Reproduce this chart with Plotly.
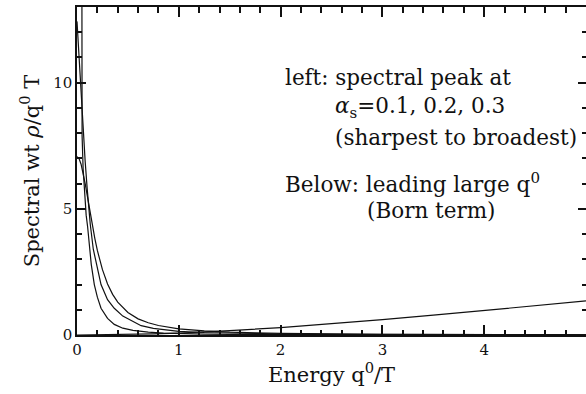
import plotly.graph_objects as go

# ---- data ----
x_sharp = [0.040, 0.044, 0.05, 0.06, 0.07, 0.08, 0.09, 0.104, 0.12, 0.14, 0.17, 0.2,
           0.236, 0.27, 0.3, 0.366, 0.45, 0.55, 0.7, 0.85, 1.0, 1.25, 1.5, 2.0, 3.0, 4.0, 5.0]
y_sharp = [40, 9.4, 7.9, 6.6, 5.8, 5.2, 4.75, 4.3, 3.6, 2.8, 2.0, 1.5,
           1.06, 0.82, 0.66, 0.42, 0.27, 0.18, 0.11, 0.075, 0.055, 0.035, 0.025, 0.014, 0.007, 0.004, 0.003]

x_mid = [0, 0.01, 0.02, 0.03, 0.04, 0.06, 0.08, 0.10, 0.13, 0.16, 0.2, 0.236, 0.3, 0.366,
         0.45, 0.55, 0.63, 0.75, 0.9, 1.0, 1.25, 1.5, 2.0, 2.5, 3.0, 4.0, 5.0]
y_mid = [12.43, 11.7, 11.0, 10.2, 9.6, 8.2, 6.9, 5.8, 4.4, 3.4, 2.6, 2.0, 1.4, 1.06,
         0.75, 0.52, 0.37, 0.26, 0.18, 0.145, 0.1, 0.07, 0.04, 0.025, 0.018, 0.01, 0.006]

x_broad = [0, 0.02, 0.04, 0.06, 0.08, 0.1, 0.125, 0.15, 0.175, 0.2, 0.25, 0.3, 0.35, 0.4,
           0.5, 0.6, 0.7, 0.8, 1.0, 1.25, 1.5, 2.0, 2.5, 3.0, 4.0, 5.0]
y_broad = [7.07, 6.99, 6.77, 6.43, 6.01, 5.54, 4.93, 4.36, 3.83, 3.35, 2.59, 2.02, 1.61, 1.30,
           0.89, 0.64, 0.485, 0.377, 0.246, 0.160, 0.112, 0.063, 0.041, 0.028, 0.016, 0.010]

x_born = [0, 0.25, 0.5, 0.75, 1.0, 1.25, 1.5, 2.0, 2.5, 3.0, 3.5, 4.0, 4.5, 5.0]
y_born = [0, 0.005, 0.02, 0.044, 0.078, 0.121, 0.171, 0.294, 0.441, 0.606, 0.784, 0.969, 1.158, 1.35]

x_tick_step, x_minor_step = 1, 0.2
y_tick_step, y_minor_step = 5, 1
X_RANGE = [0, 5]
Y_RANGE = [0, 13]

FONT = "DejaVu Serif"
INK = "#111111"
LINE = dict(color=INK, width=1.2)

fig = go.Figure()
for name, xs, ys in [("alpha_s=0.1", x_sharp, y_sharp),
                     ("alpha_s=0.2", x_mid, y_mid),
                     ("alpha_s=0.3", x_broad, y_broad),
                     ("Born term", x_born, y_born)]:
    fig.add_trace(go.Scatter(x=xs, y=ys, mode="lines", line=LINE, name=name,
                             showlegend=False, hoverinfo="skip"))

# invisible helper trace so the mirrored (top / right) tick axes get drawn
fig.add_trace(go.Scatter(x=x_born, y=y_born, xaxis="x2", yaxis="y2", mode="lines",
                         line=dict(color="rgba(0,0,0,0)", width=0), showlegend=False,
                         hoverinfo="skip"))

base = dict(showgrid=False, zeroline=False, linecolor=INK, linewidth=1.5,
            ticks="inside", tickcolor=INK, tickwidth=1.5, tickmode="linear", tick0=0)

fig.update_layout(
    xaxis=dict(**base, range=X_RANGE, dtick=x_tick_step, ticklen=10, showline=True,
               mirror=True, tickfont=dict(family=FONT, size=15, color=INK),
               minor=dict(dtick=x_minor_step, tick0=0, ticks="inside", ticklen=5,
                          tickcolor=INK, tickwidth=1.5),
               title=dict(text="Energy q<sup>0</sup>/T",
                          font=dict(family=FONT, size=21, color=INK), standoff=6)),
    yaxis=dict(**base, range=Y_RANGE, dtick=y_tick_step, ticklen=9, showline=True,
               mirror=True, tickfont=dict(family=FONT, size=15, color=INK),
               minor=dict(dtick=y_minor_step, tick0=0, ticks="inside", ticklen=5,
                          tickcolor=INK, tickwidth=1.5),
               title=dict(text="Spectral wt <i>ρ</i>/q<sup>0</sup> T",
                          font=dict(family=FONT, size=21, color=INK), standoff=8)),
    xaxis2=dict(**base, range=X_RANGE, dtick=x_tick_step, ticklen=10, overlaying="x",
                side="top", anchor="y", showticklabels=False, showline=False,
                minor=dict(dtick=x_minor_step, tick0=0, ticks="inside", ticklen=6,
                           tickcolor=INK, tickwidth=1.5)),
    yaxis2=dict(**base, range=Y_RANGE, dtick=y_tick_step, ticklen=8, overlaying="y",
                side="right", anchor="x", showticklabels=False, showline=False,
                minor=dict(dtick=y_minor_step, tick0=0, ticks="inside", ticklen=4,
                           tickcolor=INK, tickwidth=1.5)),
)

ann_font = dict(family=FONT, size=21.5, color=INK)
notes = [
    ("left: spectral peak at", 2.02, 10.2),
    ("<i>α</i><sub>s</sub>=0.1, 0.2, 0.3", 2.51, 9.03),
    ("(sharpest to broadest)", 2.51, 7.84),
    ("Below: leading large q<sup>0</sup>", 2.02, 6.01),
    ("(Born term)", 2.83, 4.92),
]
for txt, ax_, ay_ in notes:
    fig.add_annotation(x=ax_, y=ay_, xref="x", yref="y", text=txt, showarrow=False,
                       xanchor="left", yanchor="middle", font=ann_font)

fig.update_layout(
    width=586, height=394,
    margin=dict(l=77, r=0, t=7, b=59, autoexpand=False),
    paper_bgcolor="white", plot_bgcolor="white",
    showlegend=False,
)

fig.write_html("out.html", config={"displayModeBar": False},
               post_script="document.body.style.margin='0';document.body.style.overflow='hidden';")
